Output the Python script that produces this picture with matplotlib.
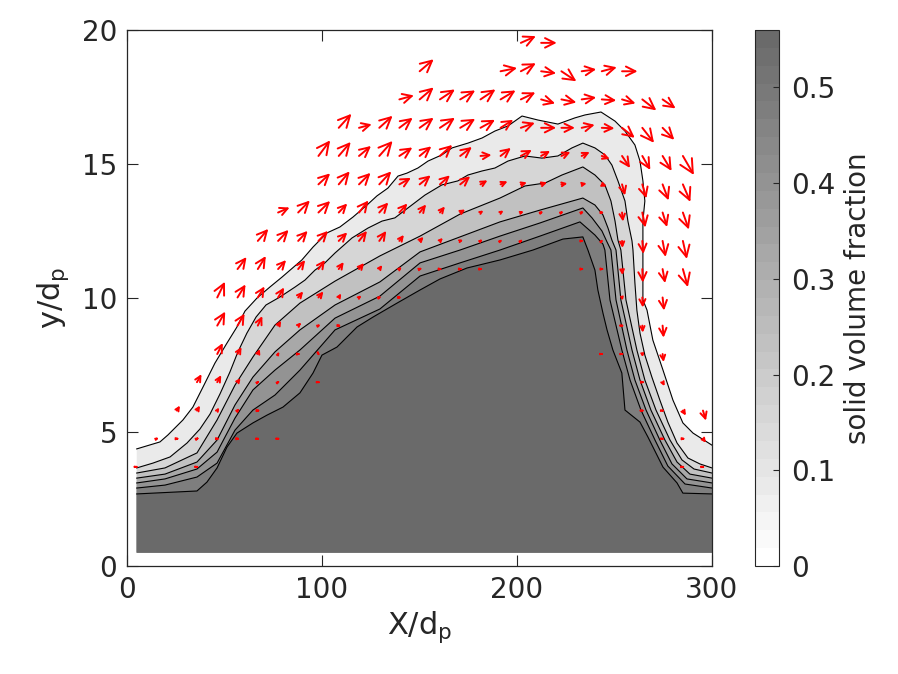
import numpy as np
import matplotlib
matplotlib.use("Agg")
import matplotlib.pyplot as plt
from matplotlib.colors import ListedColormap, Normalize
from matplotlib.cm import ScalarMappable

plt.rcParams['font.family'] = ['DejaVu Sans']
dark = '#262626'

# contour levels (solid volume fraction)
levels = [0.08, 0.16, 0.24, 0.32, 0.40, 0.48, 0.56]

# contour lines, outermost (0.08) to innermost (0.56)
c1_x = [5, 16.9, 21.0, 28.7, 33.8, 39.0, 45.1, 51.3, 56.4, 60.5, 66.7, 73.3, 79.5, 89.7, 95.4,
        102.6, 109.2, 115.9, 123.1, 128.2, 133.8, 139.0, 143.6, 149.2, 154.4, 161.5, 166.7, 174.9,
        182.1, 188.7, 195.4, 202.6, 210.8, 221.0, 229.7, 234.9, 243.1, 250.3, 255.4, 260.5, 263.1,
        264.6, 265.6, 264.6, 264.6, 264.6, 266.7, 269.7, 274.9, 280.0, 285.1, 290.3, 300]
c1_y = [4.37, 4.63, 4.89, 5.45, 5.93, 6.68, 7.57, 8.32, 8.92, 9.51, 10.0, 10.41, 10.78, 11.42, 11.9,
        12.43, 12.65, 13.02, 13.47, 13.81, 14.1, 14.55, 14.66, 14.85, 15.11, 15.34, 15.6, 15.78,
        15.97, 16.23, 16.42, 16.79, 16.64, 16.49, 16.72, 16.83, 16.94, 16.6, 16.23, 15.71, 15.11,
        14.37, 13.62, 12.87, 11.79, 9.93, 9.55, 8.43, 7.31, 6.19, 5.34, 4.96, 4.51]

c2_x = [5, 13.3, 22.1, 30.8, 37.4, 42.6, 47.7, 52.8, 56.9, 61.5, 66.2, 71.3, 78.5, 86.2, 91.3, 96.4,
        101.5, 106.7, 115.4, 123.6, 130.8, 137.4, 144.1, 152.8, 161.5, 169.7, 174.9, 182.1, 188.7,
        195.4, 204.1, 212.8, 221.0, 228.2, 233.8, 240.0, 245.1, 248.7, 251.8, 255.4, 256.9, 259.0,
        259.5, 260.5, 261.5, 263.1, 265.6, 269.2, 273.3, 277.4, 282.1, 287.7, 293.8, 300]
c2_y = [3.66, 3.84, 4.07, 4.59, 5.11, 5.67, 6.42, 7.24, 7.99, 8.69, 9.29, 9.74, 10.04, 10.41, 10.67,
        11.04, 11.31, 11.68, 12.24, 12.61, 12.87, 12.99, 13.36, 13.84, 14.22, 14.37, 14.59, 14.74,
        14.85, 15.11, 15.30, 15.22, 15.30, 15.60, 15.78, 15.60, 15.34, 14.96, 14.37, 13.62, 12.87,
        12.13, 11.79, 10.56, 9.55, 8.69, 7.87, 7.05, 6.19, 5.37, 4.59, 4.03, 3.81, 3.66]

c3_x = [5, 19.5, 35.9, 46.2, 55.4, 64.6, 75.9, 88.7, 106.7, 129.7, 150.3, 170.8, 191.3, 204.1, 214.4,
        223.1, 233.8, 240.0, 245.1, 248.2, 250.3, 251.8, 253.3, 255.9, 261.5, 265.6, 271.3, 278.5,
        284.6, 290.8, 300]
c3_y = [3.47, 3.66, 4.22, 5.45, 6.75, 7.80, 8.99, 9.81, 10.63, 11.57, 12.31, 13.13, 13.73, 14.18, 14.29,
        14.59, 14.89, 14.59, 14.22, 13.62, 12.87, 12.16, 11.79, 9.93, 8.06, 6.94, 5.82, 4.70, 3.96,
        3.62, 3.47]

c4_x = [5, 19.5, 35.9, 46.2, 55.4, 64.6, 75.9, 88.7, 106.7, 129.7, 150.3, 170.8, 191.3, 211.8, 233.8,
        240.0, 244.1, 246.7, 248.7, 250.8, 253.3, 259.0, 263.1, 268.7, 275.9, 282.1, 288.7, 300]
c4_y = [3.28, 3.43, 3.88, 4.70, 6.01, 7.05, 7.99, 8.81, 9.74, 10.60, 11.72, 12.28, 12.84, 13.28, 13.73,
        13.47, 13.10, 12.61, 12.16, 11.79, 9.93, 8.06, 6.94, 5.82, 4.70, 3.88, 3.43, 3.28]

c5_x = [5, 19.5, 35.9, 46.2, 55.4, 64.6, 75.9, 88.7, 106.7, 129.7, 150.3, 170.8, 191.3, 211.8, 233.8,
        238.5, 243.6, 246.2, 248.2, 250.8, 256.4, 260.5, 266.2, 273.3, 279.5, 287.2, 300]
c5_y = [3.10, 3.25, 3.62, 4.25, 5.52, 6.57, 7.31, 8.06, 9.25, 10.07, 11.31, 11.79, 12.31, 12.80, 13.36,
        12.99, 12.50, 12.09, 11.79, 9.93, 8.06, 6.94, 5.82, 4.70, 3.81, 3.25, 3.10]

c6_x = [5, 19.5, 35.9, 46.2, 55.4, 64.6, 75.9, 88.7, 106.7, 129.7, 150.3, 170.8, 191.3, 211.8, 232.3,
        240.0, 244.1, 245.1, 247.7, 253.8, 258.0, 263.6, 270.8, 277.4, 286.2, 300]
c6_y = [2.91, 3.02, 3.32, 3.84, 5.07, 5.82, 6.38, 7.31, 8.81, 9.59, 10.82, 11.31, 11.79, 12.31, 12.84,
        12.35, 12.01, 11.79, 9.93, 8.06, 6.94, 5.82, 4.70, 3.73, 3.06, 2.91]

c7_x = [5, 35.9, 41.0, 46.2, 51.3, 56.4, 64.6, 71.8, 80.0, 88.7, 95.4, 100.0, 107.7, 118.0, 126.2,
        138.5, 150.3, 160.5, 174.4, 191.3, 208.2, 223.6, 233.8, 236.4, 240.0, 241.5, 244.1, 246.2,
        249.2, 253.8, 255.4, 263.1, 267.2, 274.9, 282.1, 285.1, 300]
c7_y = [2.69, 2.80, 3.13, 3.66, 4.44, 4.96, 5.34, 5.63, 5.93, 6.46, 7.20, 7.87, 8.17, 8.92, 9.29,
        9.81, 10.30, 10.71, 11.12, 11.42, 11.79, 12.20, 12.28, 11.79, 11.04, 10.30, 9.44, 8.81,
        8.06, 7.20, 5.82, 5.37, 4.81, 3.69, 3.10, 2.72, 2.69]

bed_bottom = 0.5

# velocity vectors: grid positions and arrows (column index, row index, u, v)
qx = [4.8, 15.2, 25.6, 35.9, 46.3, 56.7, 67.1, 77.5, 87.8, 98.2, 108.6, 119.0, 129.4, 139.7, 150.1,
      160.5, 170.9, 181.3, 191.6, 202.0, 212.4, 222.8, 233.2, 243.5, 253.9, 264.3, 274.7, 285.1, 295.4]
qy = [3.7, 4.75, 5.8, 6.86, 7.91, 8.97, 10.02, 11.08, 12.13, 13.19, 14.24, 15.3, 16.35, 17.41, 18.46, 19.52]

arrows = [
    # row 15
    (19, 15, 15, 6.7), (20, 15, 15.6, 0),
    # row 14
    (14, 14, 14, 12), (18, 14, 16.5, 3.3), (19, 14, 15, 8), (20, 14, 15, -2), (21, 14, 15, -10),
    (22, 14, 14.5, 2), (23, 14, 15, 4), (24, 14, 15.5, 0),
    # row 13
    (13, 13, 14.5, 4), (14, 13, 14, 12), (15, 13, 15, 10), (16, 13, 15, 9), (17, 13, 15, 10),
    (18, 13, 15, 9), (19, 13, 14.5, 7), (20, 13, 14, -4), (21, 13, 15, -3), (22, 13, 14.5, 2),
    (23, 13, 14.5, -1), (24, 13, 13.5, -4), (25, 13, 14, -11), (26, 13, 13, -9),
    # row 12
    (10, 12, 12.7, 14), (11, 12, 12.7, 3.5), (12, 12, 13.3, 12), (13, 12, 13.3, 10), (14, 12, 14, 10),
    (15, 12, 15, 10), (16, 12, 15, 9), (17, 12, 14.5, 8), (18, 12, 12.7, 8), (19, 12, 14, 5),
    (20, 12, 15, 0), (21, 12, 13.5, 0), (22, 12, 13, 3), (23, 12, 12.7, -0.5), (24, 12, 12.7, -10),
    (25, 12, 11.7, -15), (26, 12, 11.7, -12),
    # row 11
    (9, 11, 11.7, 15.6), (10, 11, 12, 14), (11, 11, 12, 10), (12, 11, 13.3, 15), (13, 11, 13, 8.5),
    (14, 11, 11.7, 9.6), (15, 11, 12.3, 11), (16, 11, 11.7, 9), (17, 11, 11, 1), (18, 11, 10.3, 8),
    (19, 11, 11, 6), (20, 11, 9, 5), (21, 11, 9, 4), (22, 11, 8, 4), (23, 11, 8, -3), (24, 11, 8, -12),
    (25, 11, 8, -14), (26, 11, 9, -15), (27, 11, 11, -19),
    # row 10
    (9, 10, 11.7, 11), (10, 10, 11, 13), (11, 10, 11.5, 11.5), (12, 10, 12, 13), (13, 10, 11.5, 6.5),
    (14, 10, 11, 9), (15, 10, 10, 9), (16, 10, 10, 8), (17, 10, 7, 4), (18, 10, 7, 3), (19, 10, 6, 2),
    (20, 10, 6, 2), (21, 10, 6, 1), (22, 10, 5, 1), (23, 10, 5, -2), (24, 10, 3, -11), (25, 10, 4, -14),
    (26, 10, 6, -16), (27, 10, 7.5, -17.5),
    # row 9
    (7, 9, 11.5, 5), (8, 9, 11.7, 12), (9, 9, 11.7, 11.5), (10, 9, 8.5, 9), (11, 9, 9.5, 12),
    (12, 9, 9, 10), (13, 9, 8, 9), (14, 9, 6.5, 8), (15, 9, 5, 6), (16, 9, 5, 3), (17, 9, 3, 2),
    (18, 9, 3, 2), (19, 9, 3, 1), (20, 9, 2, 1), (21, 9, 2, 1), (22, 9, 2, 1), (23, 9, 2, 0),
    (24, 9, 1, -9), (25, 9, 3, -15), (26, 9, 4.5, -14.5), (27, 9, 6, -17),
    # row 8
    (6, 8, 10.5, 12), (7, 8, 10.5, 11), (8, 8, 9.5, 10), (9, 8, 9.5, 10), (10, 8, 8.5, 8.5),
    (11, 8, 8, 10), (12, 8, 7, 10), (13, 8, 4.5, 6), (14, 8, 4, 4), (15, 8, 3, 3), (16, 8, 3, 1),
    (17, 8, 2, 1.5), (18, 8, 1.5, 1), (19, 8, 1.5, 1), (22, 8, 2, 0), (23, 8, 1, 1), (24, 8, 0.5, -7),
    (25, 8, 1, -13), (26, 8, 3, -16), (27, 8, 4, -18),
    # row 7
    (5, 7, 9, 12), (6, 7, 8, 13), (7, 7, 8, 9), (8, 7, 7, 9), (9, 7, 6.5, 9), (10, 7, 5, 7),
    (11, 7, 5, 6), (12, 7, 3, 4), (13, 7, 2.5, 2), (14, 7, 2.5, 1), (15, 7, 2, 0), (16, 7, 2, 0),
    (17, 7, 2, 0), (22, 7, 2, 0), (23, 7, 2, 0), (24, 7, 0.5, -6), (25, 7, 0.5, -13.5),
    (26, 7, 2.5, -14), (27, 7, 5, -18),
    # row 6
    (4, 6, 7.7, 15.7), (5, 6, 8, 13), (6, 6, 6.7, 11), (7, 6, 6, 10), (8, 6, 5, 6), (9, 6, 5, 6),
    (10, 6, 2.5, 4), (11, 6, 2.5, 2), (12, 6, 2, 1), (13, 6, 2, 0), (24, 6, 0.5, -3), (25, 6, 0.5, -10),
    (26, 6, 1.5, -13),
    # row 5
    (4, 5, 8, 14), (5, 5, 7, 12), (6, 5, 4.5, 9.5), (7, 5, 3, 5), (8, 5, 3, 3), (9, 5, 2, 1),
    (10, 5, 2, 0), (24, 5, 1, 0), (25, 5, 0.5, -7), (26, 5, 1, -12),
    # row 4
    (4, 4, 5.5, 11), (5, 4, 4, 7), (6, 4, 2, 5), (7, 4, 1, 2), (8, 4, 2, 0), (9, 4, 0.5, -1),
    (23, 4, 1, 0), (24, 4, 1, 0), (25, 4, 0.5, -3), (26, 4, 1, -8),
    # row 3
    (3, 3, 4.5, 8), (4, 3, 4, 7), (5, 3, 3, 4), (6, 3, 1.5, 1), (7, 3, 1.5, 1), (9, 3, 1, 0),
    (25, 3, 2, 0), (26, 3, 2, -4),
    # row 2
    (2, 2, 3, 5), (3, 2, 3, 5), (4, 2, 2, 3), (5, 2, 2, 2), (6, 2, 2, 0), (25, 2, 1, 0), (26, 2, 1, 0),
    (27, 2, 3, -5), (28, 2, 3, -10),
    # row 1
    (1, 1, 2, 1), (2, 1, 2, 0), (3, 1, 2, 1), (4, 1, 2, 0), (5, 1, 2, 0), (6, 1, 1, 0), (7, 1, 1, 0),
    (26, 1, 1, 0), (27, 1, 2, 0), (28, 1, 3, -4),
    # row 0
    (0, 0, 1, 0), (3, 0, 1, 0), (27, 0, 1, 0), (28, 0, 1, 0),
]

vmax = 0.56
cmap = ListedColormap([(g, g, g) for g in np.linspace(1.0, 0.415, 30)])
norm = Normalize(0, vmax)

fig = plt.figure(figsize=(8.98, 6.74), dpi=100)
ax = fig.add_axes([0.1414, 0.1602, 0.6514, 0.7953])
ax.set_xlim(0, 300)
ax.set_ylim(0, 20)

lines_x = [c1_x, c2_x, c3_x, c4_x, c5_x, c6_x, c7_x]
lines_y = [c1_y, c2_y, c3_y, c4_y, c5_y, c6_y, c7_y]

for lev, lx, ly in zip(levels, lines_x, lines_y):
    px = list(lx) + [lx[-1], lx[0]]
    py = list(ly) + [bed_bottom, bed_bottom]
    ax.fill(px, py, color=cmap(norm(lev)), lw=0, zorder=1)
for lx, ly in zip(lines_x, lines_y):
    ax.plot(lx, ly, color='black', lw=0.8, zorder=2)

# matlab-like quiver: line arrows whose head scales with the arrow length
to_disp = ax.transData
to_data = ax.transData.inverted()
for i, j, u, v in arrows:
    tail = np.array([qx[i], qy[j]])
    head = to_data.transform(to_disp.transform(tail) + np.array([u, v]))
    L = np.hypot(u, v)
    ax.annotate('', xy=head, xytext=tail, xycoords='data', textcoords='data',
                arrowprops=dict(arrowstyle='->', color='red', lw=1.4, shrinkA=0, shrinkB=0,
                                mutation_scale=max(L * 1.1, 1.0)),
                zorder=5, annotation_clip=False)

ax.set_xticks([0, 100, 200, 300])
ax.set_yticks([0, 5, 10, 15, 20])
ax.tick_params(direction='in', length=8, width=0.8, top=True, right=True, labelsize=20,
               colors=dark, pad=7)
for s in ax.spines.values():
    s.set_color(dark)
    s.set_linewidth(0.9)
ax.set_xlabel(r'X/d$_\mathregular{p}$', fontsize=22, color=dark, labelpad=4)
ax.set_ylabel(r'y/d$_\mathregular{p}$', fontsize=22, color=dark, labelpad=8)

cax = fig.add_axes([0.8408, 0.1602, 0.0267, 0.7953])
cb = fig.colorbar(ScalarMappable(norm=norm, cmap=cmap), cax=cax)
cb.set_ticks([0, 0.1, 0.2, 0.3, 0.4, 0.5])
cb.ax.set_yticklabels(['0', '0.1', '0.2', '0.3', '0.4', '0.5'])
cb.ax.tick_params(direction='in', length=4, width=0.8, labelsize=20, colors=dark, pad=9)
cb.outline.set_edgecolor(dark)
cb.outline.set_linewidth(0.8)
cb.set_label('solid volume fraction', fontsize=20, color=dark, labelpad=6)

fig.savefig('out.png', dpi=100)
